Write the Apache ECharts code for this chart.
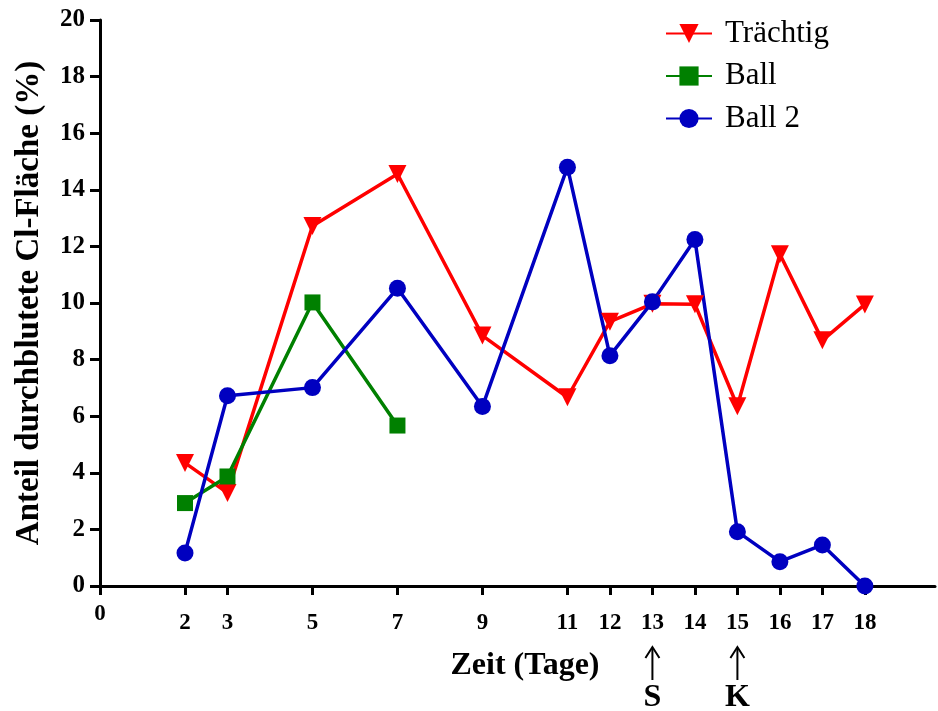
<!DOCTYPE html>
<html><head><meta charset="utf-8">
<script src="https://cdn.jsdelivr.net/npm/echarts@6/dist/echarts.min.js"></script>
<style>html,body{margin:0;padding:0;background:#fff}#c{width:938px;height:711px}</style>
</head><body><div id="c"></div>
<script>
const days = [2, 3, 5, 7, 9, 11, 12, 13, 14, 15, 16, 17, 18];
const traechtig = [4.35, 3.29, 12.72, 14.56, 8.85, 6.67, 9.34, 9.97, 9.96, 6.35, 11.72, 8.68, 9.95];
const ballDays = [2, 3, 5, 7];
const ball = [2.93, 3.87, 10.02, 5.67];
const ball2 = [1.17, 6.72, 7.01, 10.52, 6.34, 14.8, 8.14, 10.04, 12.24, 1.92, 0.86, 1.45, 0.0];
const xTicks = [0, 2, 3, 5, 7, 9, 11, 12, 13, 14, 15, 16, 17, 18];
const seriesNames = ['Trächtig', 'Ball', 'Ball 2'];
const FONT = '"Liberation Serif", "Times New Roman", serif';

const chart = echarts.init(document.getElementById('c'));
const pair = (xs, ys) => xs.map((x, i) => [x, ys[i]]);
chart.setOption({
  animation: false,
  backgroundColor: '#fff',
  grid: { left: 100, right: 3, top: 20, bottom: 125, containLabel: false },
  legend: {
    left: 660, top: 13, orient: 'vertical', itemGap: 11.5, itemWidth: 46, itemHeight: 24,
    textStyle: { fontFamily: FONT, fontSize: 31, color: '#000', padding: [0, 0, 0, 8] },
    data: seriesNames
  },
  xAxis: {
    type: 'value', min: 0, max: 19.65,
    axisLine: { lineStyle: { color: '#000', width: 3 } },
    axisTick: { show: true, length: 9, lineStyle: { color: '#000', width: 3 }, customValues: xTicks },
    axisLabel: {
      customValues: xTicks, color: '#000', fontFamily: FONT, fontWeight: 'bold', fontSize: 23,
      verticalAlign: 'bottom', margin: 49,
      formatter: v => v === 0 ? '{z|0}' : '{n|' + v + '}',
      rich: {
        z: { fontFamily: FONT, fontWeight: 'bold', fontSize: 23, color: '#000', padding: [0, 0, 9, 0] },
        n: { fontFamily: FONT, fontWeight: 'bold', fontSize: 23, color: '#000' }
      }
    },
    splitLine: { show: false }
  },
  yAxis: {
    type: 'value', min: 0, max: 20, interval: 2,
    name: 'Anteil durchblutete Cl-Fläche (%)', nameLocation: 'middle', nameGap: 54,
    nameTextStyle: { fontFamily: FONT, fontWeight: 'bold', fontSize: 33, color: '#000' },
    axisLine: { show: true, lineStyle: { color: '#000', width: 3 } },
    axisTick: { show: true, length: 10, lineStyle: { color: '#000', width: 3 } },
    axisLabel: { color: '#000', fontFamily: FONT, fontWeight: 'bold', fontSize: 25, margin: 15 },
    splitLine: { show: false }
  },
  series: [
    { name: seriesNames[0], type: 'line', data: pair(days, traechtig), color: '#ff0000',
      symbol: 'triangle', symbolRotate: 180, symbolSize: 18, lineStyle: { width: 3.5 } },
    { name: seriesNames[1], type: 'line', data: pair(ballDays, ball), color: '#008000',
      symbol: 'rect', symbolSize: 16, lineStyle: { width: 3.5 } },
    { name: seriesNames[2], type: 'line', data: pair(days, ball2), color: '#0000c0',
      symbol: 'circle', symbolSize: 17, lineStyle: { width: 3.5 } }
  ]
});

const p13 = chart.convertToPixel({ gridIndex: 0 }, [13, 0])[0];
const p15 = chart.convertToPixel({ gridIndex: 0 }, [15, 0])[0];
const arrow = (x, lab) => [
  { type: 'line', shape: { x1: x, y1: 648, x2: x, y2: 680 }, style: { stroke: '#000', lineWidth: 2 } },
  { type: 'polyline', shape: { points: [[x - 7, 658], [x, 647], [x + 7, 658]] }, style: { stroke: '#000', lineWidth: 2, fill: null } },
  { type: 'text', x: x, y: 698, style: { text: lab, font: 'bold 32px ' + FONT, fill: '#000', align: 'center', verticalAlign: 'middle' } }
];
chart.setOption({
  graphic: [
    { type: 'text', x: 525, y: 666, style: { text: 'Zeit (Tage)', font: 'bold 32px ' + FONT, fill: '#000', align: 'center', verticalAlign: 'middle' } },
    ...arrow(p13, 'S'), ...arrow(p15, 'K')
  ]
});
</script></body></html>
